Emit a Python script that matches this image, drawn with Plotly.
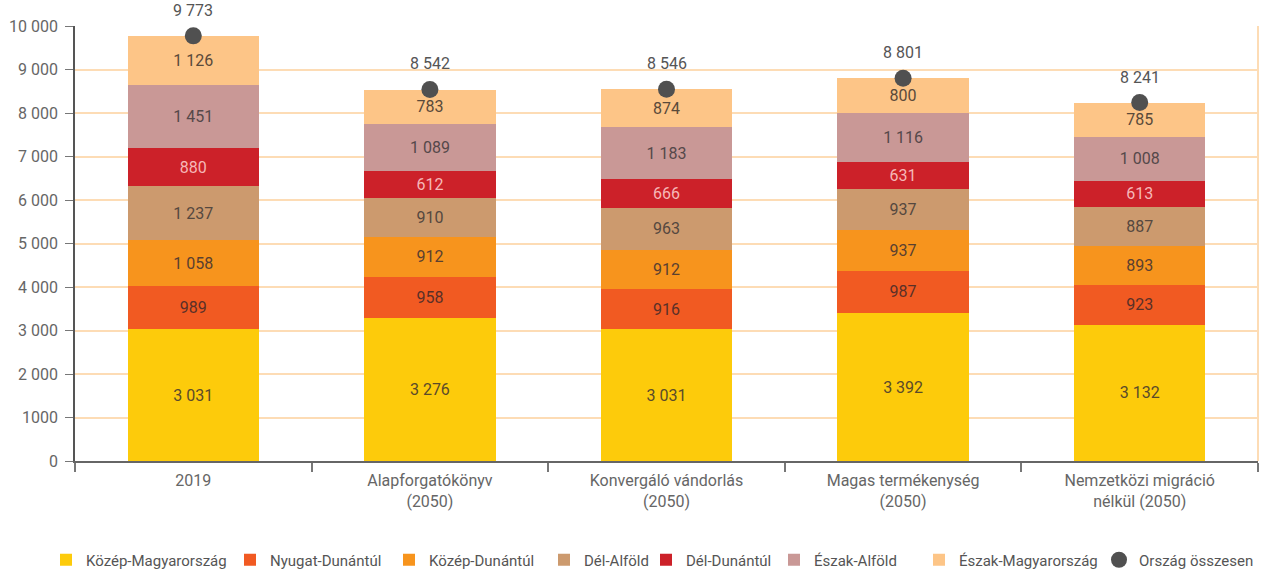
import plotly.graph_objects as go

categories = ["2019", "Alapforgatókönyv<br>(2050)", "Konvergáló vándorlás<br>(2050)",
              "Magas termékenység<br>(2050)", "Nemzetközi migráció<br>nélkül (2050)"]

kozep_magyarorszag = [3031, 3276, 3031, 3392, 3132]
nyugat_dunantul = [989, 958, 916, 987, 923]
kozep_dunantul = [1058, 912, 912, 937, 893]
del_alfold = [1237, 910, 963, 937, 887]
del_dunantul = [880, 612, 666, 631, 613]
eszak_alfold = [1451, 1089, 1183, 1116, 1008]
eszak_magyarorszag = [1126, 783, 874, 800, 785]
orszag_osszesen = [9773, 8542, 8546, 8801, 8241]

ytick_vals = [0, 1000, 2000, 3000, 4000, 5000, 6000, 7000, 8000, 9000, 10000]
ytick_text = ["0", "1000", "2 000", "3 000", "4 000", "5 000", "6 000", "7 000", "8 000", "9 000", "10 000"]

series = [
    ("Közép-Magyarország", kozep_magyarorszag, "#FDCB0B", "#5a4a2a"),
    ("Nyugat-Dunántúl", nyugat_dunantul, "#F15A22", "#5a3028"),
    ("Közép-Dunántúl", kozep_dunantul, "#F7941D", "#5a4030"),
    ("Dél-Alföld", del_alfold, "#CC9A6E", "#55483f"),
    ("Dél-Dunántúl", del_dunantul, "#CC2129", "#F6B8B8"),
    ("Észak-Alföld", eszak_alfold, "#C99896", "#55484a"),
    ("Észak-Magyarország", eszak_magyarorszag, "#FDC587", "#5a4a3a"),
]

# legend symbol left edges in the page (px)
legend_px = [60, 244, 403, 558, 660, 788, 933, 1113]

FONT = "Roboto, Arial"
W, H = 1263, 569

def fmt(v):
    return f"{v:,}".replace(",", " ")

fig = go.Figure()
for i, (name, vals, col, tcol) in enumerate(series):
    fig.add_trace(go.Bar(
        name=name, x=categories, y=vals, marker_color=col, marker_line_width=0,
        text=[fmt(v) for v in vals], textposition="inside", insidetextanchor="middle",
        textangle=0, constraintext="none",
        textfont=dict(color=tcol, size=16, family=FONT),
        hoverinfo="skip", legend="legend" if i == 0 else f"legend{i+1}",
    ))

fig.add_trace(go.Scatter(
    name="Ország összesen", x=categories, y=orszag_osszesen, mode="markers",
    marker=dict(color="#505050", size=17, symbol="circle"),
    cliponaxis=False, legend="legend8", hoverinfo="skip",
))

for idx, v in enumerate(orszag_osszesen):
    fig.add_annotation(x=idx, y=v, text=fmt(v), showarrow=False, yanchor="bottom",
                       yshift=14, font=dict(color="#555555", size=16, family=FONT))

legends = {}
for i, px in enumerate(legend_px):
    key = "legend" if i == 0 else f"legend{i+1}"
    legends[key] = dict(
        orientation="h", xref="container", x=(px - 14) / W, xanchor="left",
        yref="container", y=9 / H, yanchor="middle",
        font=dict(size=15, color="#555555", family=FONT),
        itemwidth=30, bgcolor="rgba(0,0,0,0)",
    )

fig.update_layout(
    width=W, height=H,
    barmode="stack", bargap=0.445,
    paper_bgcolor="white", plot_bgcolor="white",
    margin=dict(l=75, r=5, t=26, b=108, autoexpand=False),
    font=dict(family=FONT, size=15, color="#666666"),
    showlegend=True,
    shapes=[dict(type="line", xref="paper", yref="paper", x0=1, x1=1, y0=0, y1=1,
                 line=dict(color="#FDDCB5", width=2))],
    **legends,
)

fig.update_xaxes(
    type="category", range=[-0.5, len(categories) - 0.5],
    showline=True, linecolor="#666666", linewidth=1.5,
    ticks="outside", tickson="boundaries", ticklen=9, tickcolor="#777777", tickwidth=1.5,
    tickfont=dict(size=16, color="#666666", family=FONT), showgrid=False, automargin=False,
    ticklabelstandoff=4,
)
fig.update_yaxes(
    range=[0, 10000], tickvals=ytick_vals, ticktext=ytick_text,
    showline=True, linecolor="#555555", linewidth=1.5,
    ticks="outside", ticklen=8, tickcolor="#777777",
    showgrid=True, gridcolor="#FDDCB5", gridwidth=1.5, zeroline=False, automargin=False,
    tickfont=dict(size=16, color="#666666", family=FONT), ticklabelstandoff=4,
)

fig.write_html("out.html", config={"displayModeBar": False},
               post_script="document.body.style.margin='0';")
